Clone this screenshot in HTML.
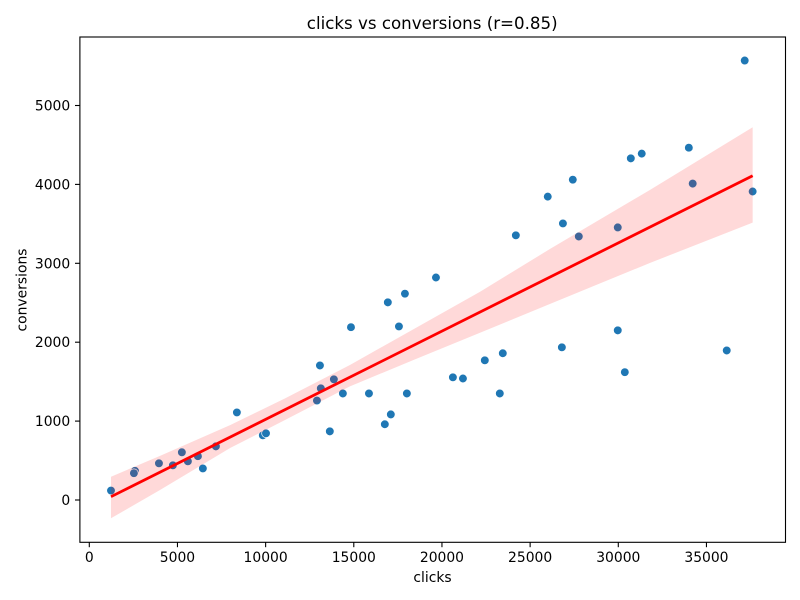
<!DOCTYPE html>
<html>
<head>
<meta charset="utf-8">
<title>clicks vs conversions</title>
<style>
html,body{margin:0;padding:0;background:#fff;width:800px;height:600px;overflow:hidden}
svg{display:block}
text{font-family:"DejaVu Sans",sans-serif;fill:#000}
</style>
</head>
<body>
<svg id="chart" xmlns="http://www.w3.org/2000/svg" width="800" height="600" viewBox="0 0 800 600">
<rect x="0" y="0" width="800" height="600" fill="#fff"/>
<text x="432.2" y="29" text-anchor="middle" font-size="16.67">clicks vs conversions (r=0.85)</text>
<text x="432.5" y="582" text-anchor="middle" font-size="13.89">clicks</text>
<text transform="translate(26.5,290) rotate(-90)" text-anchor="middle" font-size="13.89">conversions</text>
</svg>
<script>
const clicks = [1230,2590,2530,3950,4740,5250,5590,6160,6440,7180,8370,9840,10020,13080,13130,13870,12910,14380,15860,18010,13640,16760,17100,14840,16930,17900,17560,19660,20620,21190,22430,23450,23280,24190,26000,26860,27420,27760,26800,29970,29970,30370,30710,31330,34000,34220,36150,37170,37620];
const conversions = [120,370,340,465,440,605,490,555,400,680,1110,820,845,1705,1415,1530,1260,1350,1350,1350,870,960,1085,2190,2505,2615,2200,2820,1555,1540,1770,1860,1350,3355,3845,3505,4060,3340,1935,3455,2150,1620,4330,4390,4465,4010,1895,5570,3910];
const fitClicks = [1230,37620];
const fitConversions = [42,4110];
const bandClicks = [1230,4010,8000,11100,14780,18470,22160,26120,31790,37620];
const bandUpper = [295,560,950,1288,1711,2176,2640,3181,3929,4725];
const bandLower = [-232,127,660,1014,1440,1783,2120,2484,3004,3515];
const xTicks = [0,5000,10000,15000,20000,25000,30000,35000];
const yTicks = [0,1000,2000,3000,4000,5000];

const NS = 'http://www.w3.org/2000/svg';
const svg = document.getElementById('chart');
const plot = {left:79.9,right:785.5,top:37,bottom:542.3};
function xScale(v){return 89.3 + v*0.017633;}
function yScale(v){return 500 - v*0.0789;}
function make(tag,attrs){
  const el = document.createElementNS(NS,tag);
  for(const k in attrs){el.setAttribute(k,attrs[k]);}
  return el;
}

clicks.forEach(function(c,i){
  const dot = make('circle',{cx:xScale(c),cy:yScale(conversions[i]),r:4.3,fill:'#1f77b4',stroke:'#fff','stroke-width':0.67});
  
  
  svg.appendChild(dot);
});

const upperPts = bandClicks.map(function(c,i){return xScale(c)+','+yScale(bandUpper[i]);});
const lowerPts = bandClicks.map(function(c,i){return xScale(c)+','+yScale(bandLower[i]);}).reverse();
const band = make('polygon',{points:upperPts.concat(lowerPts).join(' '),fill:'#ff0000','fill-opacity':0.15});


svg.appendChild(band);

const fit = make('line',{x1:xScale(fitClicks[0]),y1:yScale(fitConversions[0]),x2:xScale(fitClicks[1]),y2:yScale(fitConversions[1]),stroke:'#ff0000','stroke-width':2.78,'stroke-linecap':'butt'});


svg.appendChild(fit);

const frame = make('rect',{x:plot.left,y:plot.top,width:plot.right-plot.left,height:plot.bottom-plot.top,fill:'none',stroke:'#000','stroke-width':1.1});


svg.appendChild(frame);

xTicks.forEach(function(t){
  const px = xScale(t);
  const tick = make('line',{x1:px,x2:px,y1:plot.bottom,y2:plot.bottom+4.9,stroke:'#000','stroke-width':1.1});
  
  
  svg.appendChild(tick);
  const label = make('text',{x:px,y:562,'text-anchor':'middle','font-size':13.89});
  
  
  label.textContent = String(t);
  svg.appendChild(label);
});

yTicks.forEach(function(t){
  const py = yScale(t);
  const tick = make('line',{x1:plot.left-4.9,x2:plot.left,y1:py,y2:py,stroke:'#000','stroke-width':1.1});
  
  
  svg.appendChild(tick);
  const label = make('text',{x:plot.left-9.7,y:py+5,'text-anchor':'end','font-size':13.89});
  
  
  label.textContent = String(t);
  svg.appendChild(label);
});
</script>
</body>
</html>
